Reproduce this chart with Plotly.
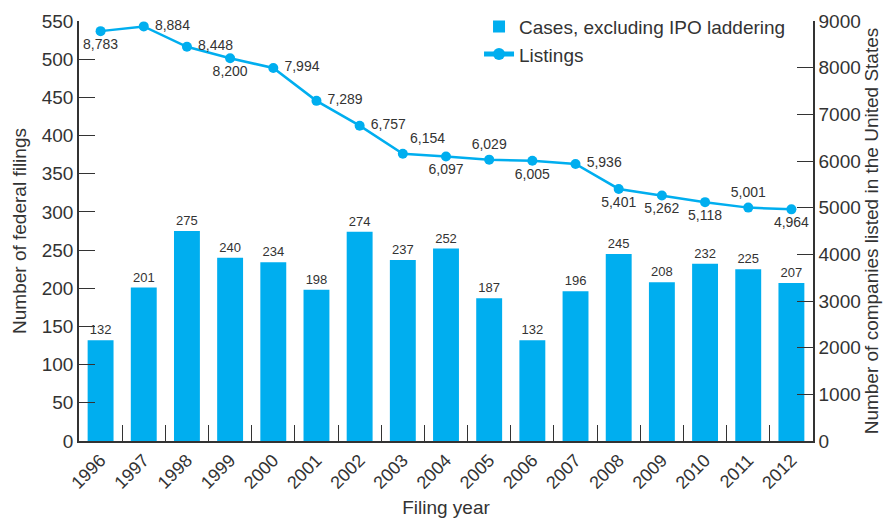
import plotly.graph_objects as go

years = [str(y) for y in range(1996, 2013)]
cases = [132, 201, 275, 240, 234, 198, 274, 237, 252, 187, 132, 196, 245, 208, 232, 225, 207]
listings = [8783, 8884, 8448, 8200, 7994, 7289, 6757, 6154, 6097, 6029, 6005, 5936, 5401, 5262, 5118, 5001, 4964]
label_pos = ["bottom center", "middle right", "middle right", "bottom center", "middle right",
             "middle right", "middle right", "top right", "bottom center", "top center",
             "bottom center", "middle right", "bottom center", "bottom center",
             "bottom center", "top center", "bottom center"]

blue = "#00AEEF"
ink = "#333333"
font = "Liberation Sans, Arial, sans-serif"

# a non-breaking space keeps the right-hand labels clear of the markers
line_text = [("\u00a0" if p == "middle right" else "") + f"{v:,}"
             for v, p in zip(listings, label_pos)]

fig = go.Figure()
fig.add_trace(go.Bar(
    x=years, y=cases, name="Cases, excluding IPO laddering",
    marker=dict(color=blue, line=dict(width=0)),
    text=[str(v) for v in cases], textposition="outside",
    textfont=dict(size=13, color=ink), cliponaxis=False,
))
fig.add_trace(go.Scatter(
    x=years, y=listings, name="Listings", yaxis="y2",
    mode="lines+markers+text",
    line=dict(color=blue, width=2.5), marker=dict(color=blue, size=10),
    text=line_text, textposition=label_pos,
    textfont=dict(size=14, color=ink), cliponaxis=False,
))

# the page body adds an 8px offset, so the figure is drawn 8px smaller
fig.update_layout(
    width=883, height=510,
    margin=dict(l=71, r=78, t=13, b=77, autoexpand=False),
    paper_bgcolor="white", plot_bgcolor="white",
    font=dict(family=font, color=ink, size=19),
    bargap=0.4,
    showlegend=True,
    legend=dict(x=0.545, y=1.032, xanchor="left", yanchor="top",
                bgcolor="rgba(0,0,0,0)", font=dict(size=19), tracegroupgap=0,
                itemsizing="constant"),
    xaxis=dict(
        automargin=False, range=[-0.5, len(years) - 0.5],
        showline=True, linecolor=ink, linewidth=1.5,
        ticks="inside", tickson="boundaries", ticklen=16, tickcolor=ink,
        tickangle=-45, tickfont=dict(size=18),
        title=dict(text="Filing year", font=dict(size=19), standoff=10),
    ),
    yaxis=dict(
        automargin=False,
        range=[0, 550], dtick=50, showgrid=False, zeroline=False,
        showline=True, linecolor=ink, linewidth=1.5,
        ticks="inside", ticklen=16, tickcolor=ink, tickfont=dict(size=19),
        title=dict(text="Number of federal filings", font=dict(size=19), standoff=10),
    ),
    yaxis2=dict(
        automargin=False,
        range=[0, 9000], dtick=1000, overlaying="y", side="right",
        showgrid=False, zeroline=False,
        showline=True, linecolor=ink, linewidth=1.5,
        ticks="inside", ticklen=16, tickcolor=ink, tickfont=dict(size=19),
        title=dict(text="Number of companies listed in the United States",
                   font=dict(size=19), standoff=4),
    ),
)

fig.write_html("out.html")
